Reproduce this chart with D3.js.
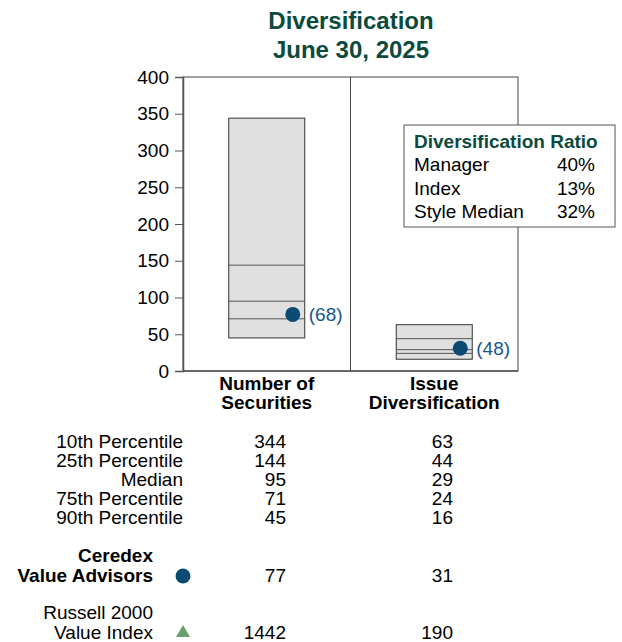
<!DOCTYPE html>
<html><head><meta charset="utf-8">
<script src="https://cdn.jsdelivr.net/npm/d3@7"></script>
<style>body{margin:0;background:#fff}svg{display:block;font-family:"Liberation Sans",Arial,sans-serif}</style>
</head><body><svg id="c" width="622" height="642"></svg>
<script>
const categories = ["Number of\nSecurities", "Issue\nDiversification"];
const p10 = [344, 63];
const p25 = [144, 44];
const median = [95, 29];
const p75 = [71, 24];
const p90 = [45, 16];
const manager = [77, 31];
const managerRatioLabel = ["(68)", "(48)"];
const indexVals = [1442, 190];
const yTicks = [0, 50, 100, 150, 200, 250, 300, 350, 400];
const rowLabels = ["10th Percentile", "25th Percentile", "Median", "75th Percentile", "90th Percentile"];
const ratioLabels = ["Manager", "Index", "Style Median"];
const ratioValues = ["40%", "13%", "32%"];

const svg = d3.select("#c");
const green = "#0b4a3c", blue = "#0b4a72", tri = "#6a9e6a";
const FS = 19;
const L = 183, R = 518, T = 77, B = 371;
const x = d3.scaleBand().domain(categories).range([L, R]);
const y = d3.scaleLinear().domain([0, 400]).range([B, T]);

// title
svg.append("text").attr("x", 351).attr("y", 29).attr("text-anchor", "middle")
  .attr("font-size", 24).attr("font-weight", "bold").attr("fill", green).text("Diversification");
svg.append("text").attr("x", 351).attr("y", 58).attr("text-anchor", "middle")
  .attr("font-size", 24).attr("font-weight", "bold").attr("fill", green).text("June 30, 2025");

// frame
svg.append("rect").attr("x", L).attr("y", T).attr("width", R - L).attr("height", B - T)
  .attr("fill", "none").attr("stroke", "#444").attr("stroke-width", 1);
svg.append("line").attr("x1", x(categories[1])).attr("x2", x(categories[1])).attr("y1", T).attr("y2", B)
  .attr("stroke", "#444");

// y axis
const ya = svg.append("g").attr("transform", `translate(${L},0)`)
  .call(d3.axisLeft(y).tickValues(yTicks).tickSize(8).tickPadding(6));
ya.select(".domain").attr("stroke", "#555").attr("stroke-width", 1.5);
ya.selectAll(".tick line").attr("stroke", "#555");
ya.selectAll("text").attr("font-size", FS).attr("fill", "#000").attr("font-family", "Liberation Sans, Arial, sans-serif");
svg.append("line").attr("x1", L).attr("x2", R).attr("y1", B).attr("y2", B).attr("stroke", "#555").attr("stroke-width", 1.5);

// boxes
const bw = 76;
categories.forEach((c, i) => {
  const cx = x(c) + x.bandwidth() / 2;
  const g = svg.append("g");
  g.append("rect").attr("x", cx - bw / 2).attr("y", y(p10[i])).attr("width", bw)
    .attr("height", y(p90[i]) - y(p10[i])).attr("fill", "#e0e0e0").attr("stroke", "#333");
  [p25[i], median[i], p75[i]].forEach(v => {
    g.append("line").attr("x1", cx - bw / 2).attr("x2", cx + bw / 2).attr("y1", y(v)).attr("y2", y(v))
      .attr("stroke", "#555");
  });
  g.append("circle").attr("cx", cx + 26).attr("cy", y(manager[i])).attr("r", 7.5).attr("fill", blue);
  g.append("text").attr("x", cx + 42).attr("y", y(manager[i]) + 7).attr("font-size", FS)
    .attr("fill", "#17568a").text(managerRatioLabel[i]);
  // category labels
  c.split("\n").forEach((t, k) => {
    svg.append("text").attr("x", cx).attr("y", 390 + k * 19).attr("text-anchor", "middle")
      .attr("font-size", FS).attr("font-weight", "bold").text(t);
  });
});

// legend box
svg.append("rect").attr("x", 404).attr("y", 125).attr("width", 211).attr("height", 102)
  .attr("fill", "#fff").attr("stroke", "#555");
svg.append("text").attr("x", 414).attr("y", 148).attr("font-size", FS).attr("font-weight", "bold")
  .attr("fill", green).text("Diversification Ratio");
ratioLabels.forEach((t, i) => {
  svg.append("text").attr("x", 414).attr("y", 171 + i * 23.5).attr("font-size", FS).text(t);
  svg.append("text").attr("x", 595).attr("y", 171 + i * 23.5).attr("font-size", FS)
    .attr("text-anchor", "end").text(ratioValues[i]);
});

// table
const colX = [286, 453];
const rows = [p10, p25, median, p75, p90];
rowLabels.forEach((t, r) => {
  const yy = 448 + r * 19;
  svg.append("text").attr("x", 183).attr("y", yy).attr("text-anchor", "end").attr("font-size", FS).text(t);
  rows[r].forEach((v, i) => {
    svg.append("text").attr("x", colX[i]).attr("y", yy).attr("text-anchor", "end").attr("font-size", FS).text(v);
  });
});
svg.append("text").attr("x", 153).attr("y", 562).attr("text-anchor", "end").attr("font-size", FS)
  .attr("font-weight", "bold").text("Ceredex");
svg.append("text").attr("x", 153).attr("y", 582).attr("text-anchor", "end").attr("font-size", FS)
  .attr("font-weight", "bold").text("Value Advisors");
svg.append("circle").attr("cx", 183).attr("cy", 576).attr("r", 7.5).attr("fill", blue);
manager.forEach((v, i) => {
  svg.append("text").attr("x", colX[i]).attr("y", 582).attr("text-anchor", "end").attr("font-size", FS).text(v);
});
svg.append("text").attr("x", 153).attr("y", 619).attr("text-anchor", "end").attr("font-size", FS).text("Russell 2000");
svg.append("text").attr("x", 153).attr("y", 639).attr("text-anchor", "end").attr("font-size", FS).text("Value Index");
svg.append("path").attr("d", d3.symbol(d3.symbolTriangle, 85)()).attr("transform", "translate(183,633)").attr("fill", tri);
indexVals.forEach((v, i) => {
  svg.append("text").attr("x", colX[i]).attr("y", 639).attr("text-anchor", "end").attr("font-size", FS).text(v);
});
</script></body></html>
